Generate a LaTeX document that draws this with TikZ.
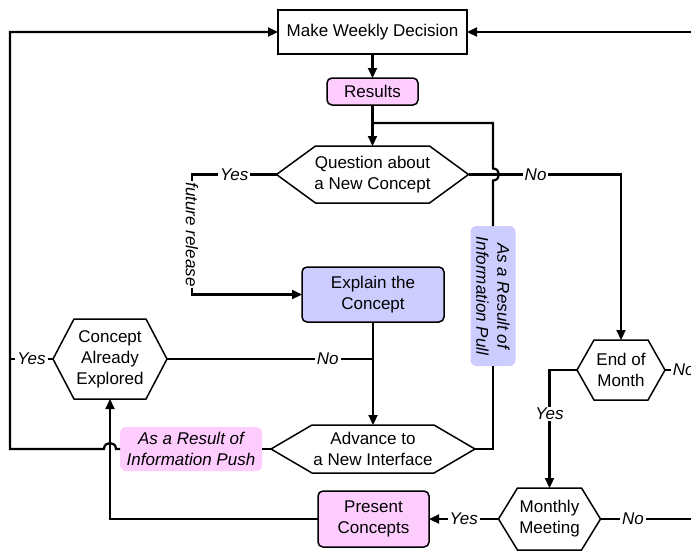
\documentclass[tikz,border=0pt]{standalone}
\usepackage{fontspec}
\setmainfont{Liberation Sans}
\usetikzlibrary{arrows.meta,calc}
\definecolor{pinkc}{HTML}{FFCCFF}
\definecolor{bluec}{HTML}{CCCCFF}
\newcommand\dfont{\fontsize{17}{21}\selectfont}
% hexagonal outline around a (borderless) rectangular node: name, corner slant
\newcommand\hexoutline[2]{%
  \draw[hexline] (#1.west) -- ([xshift=#2]#1.north west) -- ([xshift=-#2]#1.north east)
    -- (#1.east) -- ([xshift=-#2]#1.south east) -- ([xshift=#2]#1.south west) -- cycle;}
\begin{document}
\begin{tikzpicture}[x=1pt,y=-1pt,
  every node/.style={align=center, inner sep=0pt, outer sep=0pt, font=\dfont},
  conn/.style={line width=2.2pt, line join=miter},
  arr/.style={conn, -{Triangle[length=10pt,width=9pt]}},
  procbox/.style={draw, line width=1.5pt},
  pinkbox/.style={procbox, rounded corners=5pt, fill=pinkc},
  bluebox/.style={procbox, rounded corners=5pt, fill=bluec},
  tag/.style={rounded corners=6pt, font=\dfont\itshape},
  decision/.style={},
  hexline/.style={line width=1.5pt, line join=miter},
  lbl/.style={fill=white, font=\dfont\itshape, inner xsep=2pt, inner ysep=1pt}]

\fill[white] (0,0) rectangle (691,550);
\useasboundingbox (0,0) rectangle (691,550);
\clip (0,0) rectangle (691,550);

% process boxes
\node[procbox, minimum width=189pt, minimum height=44pt] (mwd) at (372.5,32) {Make Weekly Decision};
\node[pinkbox, minimum width=91pt, minimum height=27pt] (res) at (372.5,91.5) {Results};
\node[bluebox, minimum width=142pt, minimum height=55pt] (expl) at (373,294.5) {Explain the\\Concept};
\node[pinkbox, minimum width=111pt, minimum height=56pt] (pc) at (373.5,519) {Present\\Concepts};

% decisions
\node[decision, minimum width=192pt, minimum height=57pt] (q) at (372.5,174.5) {Question about\\a New Concept};
\node[decision, minimum width=114pt, minimum height=80pt] (cae) at (110,359) {Concept\\Already\\Explored};
\node[decision, minimum width=204pt, minimum height=48pt] (adv) at (373,449) {Advance to\\a New Interface};
\node[decision, minimum width=88pt, minimum height=60pt] (eom) at (621,370) {End of\\Month};
\node[decision, minimum width=102pt, minimum height=62pt] (mm) at (549.5,519) {Monthly\\Meeting};
\hexoutline{q}{39pt}
\hexoutline{cae}{21pt}
\hexoutline{adv}{41pt}
\hexoutline{eom}{17pt}
\hexoutline{mm}{19pt}

% tags sitting on connectors
\node[tag, fill=bluec, rotate=-90, minimum width=140pt, minimum height=45pt] (pull) at (493,296) {As a Result of\\Information Pull};
\node[tag, fill=pinkc, minimum width=142pt, minimum height=44pt] (push) at (191,449) {As a Result of\\Information Push};

% helper coordinates for the outer rails
\coordinate (lx) at (10,0);
\coordinate (rx) at (691,0);
\coordinate (fx) at (192,0);
\coordinate (j1) at (372.5,123);

% main spine
\draw[arr] (mwd.south) -- (res.north);
\draw[arr] (res.south) -- (q.north);

% information pull loop (hops over the "No" line)
\draw[conn] (adv.east) -| (pull.east);
\draw[conn] (pull.west) -- ($(pull.west |- q.east)+(0,6)$)
  .. controls +(8,0) and +(8,0) .. ($(pull.west |- q.east)+(0,-6)$)
  -- (pull.west |- j1) -- (j1);

% question branches
\draw[arr] (q.east) -- node[lbl, pos=.44] {No} (q.east -| eom.north) -- (eom.north);
\draw[arr] (q.west) -- node[lbl] {Yes} (q.west -| fx)
  -- node[lbl, rotate=-90] {future release} (expl.west -| fx) -- (expl.west);

% explain to advance
\draw[arr] (expl.south) -- (adv.north);
\draw[conn] (cae.east) -- node[lbl, pos=.78] {No} (cae.east -| expl.south);
\draw[conn] (cae.west) -- node[lbl] {Yes} (cae.west -| lx);

% advance back to the weekly decision (hops over the push line)
\draw[conn] (adv.west) -- (push.east);
\draw[arr] (push.west) -- ($(push.west -| cae.south)+(6,0)$)
  .. controls +(0,-8) and +(0,-8) .. ($(push.west -| cae.south)+(-6,0)$)
  -- (push.west -| lx) -- (mwd.west -| lx) -- (mwd.west);

% right-hand side
\draw[arr] (mwd.east -| rx) -- (mwd.east);
\draw[conn] (eom.east) -- node[lbl, pos=.72] {No} (eom.east -| rx);
\draw[arr] (eom.west) -- (eom.west -| mm.north) -- node[lbl, pos=.37] {Yes} (mm.north);
\draw[arr] (mm.west) -- node[lbl] {Yes} (pc.east);
\draw[conn] (mm.east) -- node[lbl, pos=.36] {No} (mm.east -| rx);

% present concepts up to concept already explored
\draw[arr] (pc.west) -- (pc.west -| cae.south) -- (cae.south);
\end{tikzpicture}
\end{document}
